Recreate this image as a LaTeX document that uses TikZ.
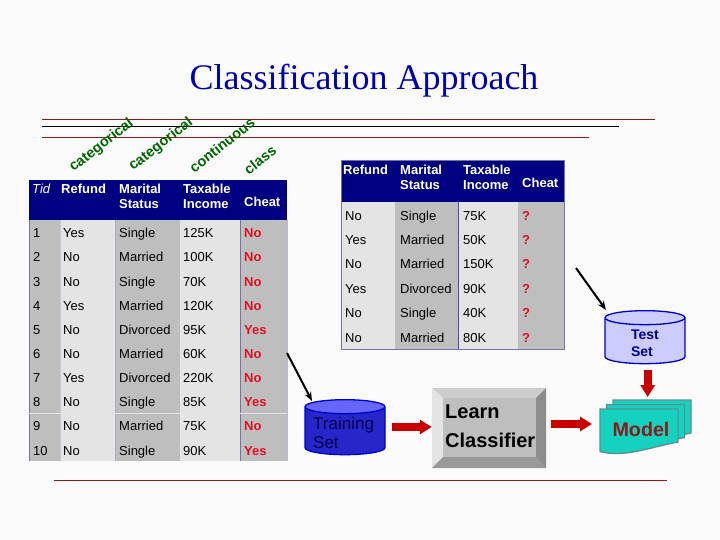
\documentclass[tikz,border=0pt]{standalone}
\usepackage{fontspec}
\setmainfont{Liberation Sans}
\newfontfamily\titlefont{Liberation Serif}
\usetikzlibrary{arrows.meta,shapes.geometric}
\definecolor{pagebg}{HTML}{FAFAFA}
\definecolor{titleblue}{HTML}{0000B0}
\definecolor{headblue}{HTML}{000080}
\definecolor{cellgray}{HTML}{BEBEBE}
\definecolor{celllight}{HTML}{E4E4E4}
\definecolor{framelilac}{HTML}{7373A6}
\definecolor{rulered}{HTML}{8B1A1A}
\definecolor{labelgreen}{HTML}{006600}
\definecolor{blockred}{HTML}{C80000}
\definecolor{cheatred}{HTML}{E01020}
\definecolor{sheetfill}{HTML}{14D2C0}
\definecolor{sheetedge}{HTML}{5F8F90}
\tikzset{
    sz/.style={font=\fontsize{#1}{#1}\selectfont},
    cell/.style={anchor=west,inner sep=0pt,text height=9.5pt,text depth=0pt,yshift=-0.5pt,sz=13},
    headcell/.style={cell,text=white,font=\fontsize{13}{13}\selectfont\bfseries},
    cheatcell/.style={cell,text=cheatred,font=\fontsize{13}{13}\selectfont\bfseries},
    slanted/.style={rotate=38,text=labelgreen,inner sep=0pt,font=\fontsize{14.5}{15}\selectfont\bfseries},
    rulerline/.style={rulered,line width=1pt},
    thinarrow/.style={-{Stealth[length=9pt,width=7pt]},line width=2pt},
    blockarrow/.style={-{Triangle[length=12pt,width=14pt]},blockred,line width=8pt},
    tank/.style={cylinder,shape border rotate=90,aspect=0.35,draw=blue!80!black,line width=1.3pt,
        cylinder uses custom fill,minimum width=80pt,inner sep=0pt},
    sheet/.style={draw=sheetedge,fill=sheetfill,line width=1.4pt}
}
\begin{document}
\begin{tikzpicture}[x=1pt,y=-1pt]
    \useasboundingbox (0,0) rectangle (720,540);
    \fill[pagebg] (0,0) rectangle (720,540);
    \node[inner sep=0pt,text=titleblue,font=\titlefont\fontsize{36}{36}\selectfont] (title) at (364,81) {Classification Approach};
    % title rules
    \coordinate (ra) at (42,120);   \coordinate (rb) at (655,120);
    \coordinate (rc) at (42,126.5); \coordinate (rd) at (619,126.5);
    \coordinate (re) at (42,138);   \coordinate (rf) at (589,138);
    \coordinate (rg) at (54,480);   \coordinate (rh) at (667,480);
    \draw[rulerline] (ra) -- (rb);
    \draw[black,line width=1pt] (rc) -- (rd);
    \draw[rulerline] (re) -- (rf);
    \draw[rulerline] (rg) -- (rh);
    % left table
    \foreach \xa/\xb/\c in {29/60/cellgray,60/115/celllight,115/179/cellgray,179/240/celllight,240/287/cellgray} {
        \fill[\c] (\xa,220) rectangle (\xb,461);
    }
    \fill[headblue] (29,180) rectangle (287,220);
    \foreach \x/\c in {29/framelilac,60/framelilac!40,115/framelilac!60,179/cellgray,240/framelilac,287/framelilac!50} {
        \draw[\c,line width=1pt] (\x,220) -- (\x,461);
    }
    \draw[celllight,line width=1pt] (29,413) -- (287,413);
    \node[cell,text=white,font=\fontsize{13}{13}\selectfont\itshape] (ltid) at (32,188) {Tid};
    \node[headcell] (lref) at (61,188) {Refund};
    \node[headcell] (lmar) at (119,188) {Marital};
    \node[headcell] (lsta) at (119,203) {Status};
    \node[headcell] (ltax) at (183,188) {Taxable};
    \node[headcell] (linc) at (183,203) {Income};
    \node[headcell] (lche) at (244,201) {Cheat};
    \foreach \n/\r/\m/\t/\c/\y in {1/Yes/Single/125K/No/232,2/No/Married/100K/No/256,3/No/Single/70K/No/281,
        4/Yes/Married/120K/No/305,5/No/Divorced/95K/Yes/329,6/No/Married/60K/No/353,7/Yes/Divorced/220K/No/377,
        8/No/Single/85K/Yes/401,9/No/Married/75K/No/425,10/No/Single/90K/Yes/450} {
        \node[cell] (ln\n) at (33,\y) {\n};
        \node[cell] (lr\n) at (63,\y) {\r};
        \node[cell] (lm\n) at (119,\y) {\m};
        \node[cell] (lt\n) at (183,\y) {\t};
        \node[cheatcell] (lc\n) at (244,\y) {\c};
    }
    % column labels
    \node[slanted] (cata) at (101.5,145.5) {categorical};
    \node[slanted] (catb) at (161,144.5) {categorical};
    \node[slanted] (cont) at (222,145) {continuous};
    \node[slanted] (cls) at (260,160) {class};
    % right table
    \foreach \xa/\xb/\c in {341/395/celllight,395/458/cellgray,458/518/celllight,518/564/cellgray} {
        \fill[\c] (\xa,202) rectangle (\xb,349);
    }
    \fill[headblue] (341,161) rectangle (564,202);
    \draw[framelilac,line width=1pt] (341,161) rectangle (564,349);
    \draw[headblue!70,line width=1pt] (458,202) -- (458,349);
    \node[headcell] (rref) at (343,169) {Refund};
    \node[headcell] (rmar) at (400,169) {Marital};
    \node[headcell] (rsta) at (400,184) {Status};
    \node[headcell] (rtax) at (463,169) {Taxable};
    \node[headcell] (rinc) at (463,184) {Income};
    \node[headcell] (rche) at (522,182) {Cheat};
    \foreach \n/\r/\m/\t/\y in {1/No/Single/75K/215,2/Yes/Married/50K/239,3/No/Married/150K/263,
        4/Yes/Divorced/90K/288,5/No/Single/40K/312,6/No/Married/80K/337} {
        \node[cell] (rr\n) at (345,\y) {\r};
        \node[cell] (rm\n) at (400,\y) {\m};
        \node[cell] (rt\n) at (463,\y) {\t};
        \node[cheatcell] (rc\n) at (522,\y) {?};
    }
    % flow
    \node[tank,cylinder body fill=blue!75!black!85,cylinder end fill=blue!60!white,minimum height=55pt] (train) at (345,431) {\hspace*{40pt}};
    \node[cell,text=blue!30!black,sz=17,text height=12pt] (traina) at (313,423) {Training};
    \node[cell,text=blue!30!black,sz=17,text height=12pt] (trainb) at (313,442) {Set};
    \node[tank,cylinder body fill=blue!20,cylinder end fill=blue!20,minimum height=53pt] (test) at (645,341) {\hspace*{40pt}};
    \node[inner sep=0pt,text=blue!60!black,font=\fontsize{14}{14}\selectfont\bfseries] (testa) at (645,335) {Test};
    \node[inner sep=0pt,text=blue!60!black,font=\fontsize{14}{14}\selectfont\bfseries] (testb) at (642,352) {Set};
    % bevel button
    \node[fill=cellgray,minimum width=114pt,minimum height=80pt,inner sep=0pt] (learn) at (489,428) {};
    \fill[celllight!90!black] (432,388) -- (546,388) -- (536,398) -- (443,398) -- cycle;
    \fill[celllight] (432,388) -- (443,398) -- (443,457) -- (432,468) -- cycle;
    \fill[gray!90] (546,388) -- (536,398) -- (536,457) -- (546,468) -- cycle;
    \fill[gray!80] (432,468) -- (443,457) -- (536,457) -- (546,468) -- cycle;
    \node[cell,font=\fontsize{20}{20}\selectfont\bfseries,text height=14pt] (learna) at (445,411) {Learn};
    \node[cell,font=\fontsize{20}{20}\selectfont\bfseries,text height=14pt] (learnb) at (445,440) {Classifier};
    % model sheets
    \foreach \dx/\dy in {13/-9,6.5/-4.5,0/0} {
        \draw[sheet,shift={(\dx,\dy)}] (600,409) -- (678,409) -- (678,442)
            .. controls (650,447) and (625,458) .. (600,451.5) -- cycle;
    }
    \node[inner sep=0pt,text=rulered,font=\fontsize{19.7}{20}\selectfont\bfseries] (model) at (641,429) {Model};
    % arrows
    \coordinate (ta) at (287,353);
    \coordinate (tb) at (576,268);
    \coordinate (tc) at (312,401);
    \coordinate (td) at (606,310);
    \coordinate (ma) at (551,424);
    \coordinate (mb) at (592,424);
    \coordinate (tma) at (647.7,370);
    \coordinate (tmb) at (647.7,397);
    \coordinate (tla) at (392,427);
    \draw[thinarrow] (ta) -- (tc);
    \draw[thinarrow] (tb) -- (td);
    \draw[blockarrow] (tla) -- (tla -| learn.west);
    \draw[blockarrow] (ma) -- (mb);
    \draw[blockarrow] (tma) -- (tmb);
\end{tikzpicture}
\end{document}
